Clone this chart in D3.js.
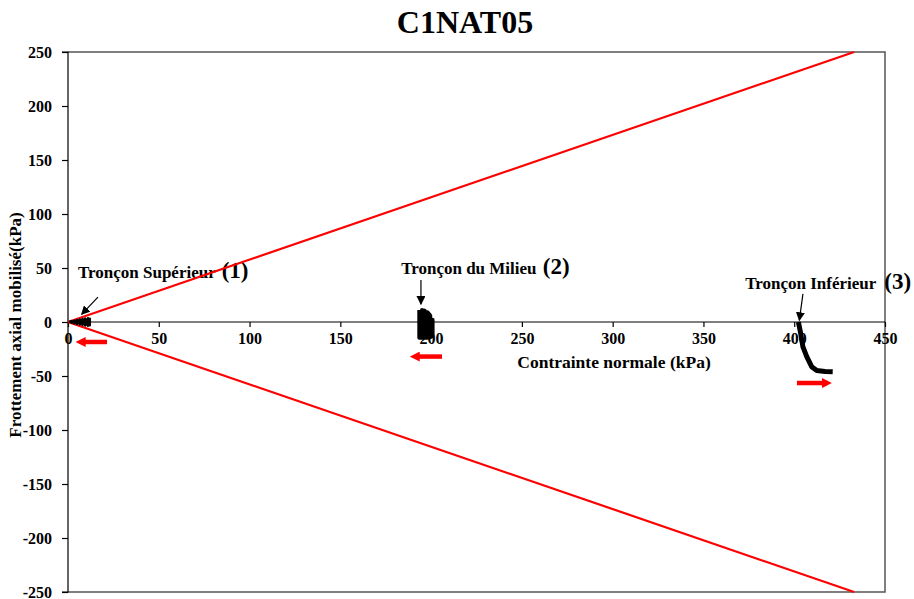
<!DOCTYPE html>
<html><head><meta charset="utf-8">
<script src="https://cdn.jsdelivr.net/npm/d3@7"></script>
<style>body{margin:0;background:#fff}svg{display:block}text{font-family:"Liberation Serif","Times New Roman",serif !important;font-weight:bold}</style>
</head><body>
<script>
const title = "C1NAT05";
const xTicks = [0,50,100,150,200,250,300,350,400,450];
const yTicks = [-250,-200,-150,-100,-50,0,50,100,150,200,250];
// Mohr-Coulomb envelope lines (tan 30°)
const envX = [0, 433];
const envUpperY = [0, 250];
const envLowerY = [0, -250];
// Tronçon Supérieur (1)
const c1x = [0.5, 2, 2, 3.5, 3.5, 5, 5, 6.5, 6.5, 8, 8, 9.5, 9.5, 11, 11, 12, 12, 11.5];
const c1y = [0, 0.8, -0.8, 1.3, -1.3, 1.8, -1.8, 2.3, -2.3, 2.8, -2.8, 3.2, -3.2, 3.5, -3.5, 3, -3, 0];
// Tronçon du Milieu (2)
const c2x = [193.5, 193.5, 195, 195, 196.5, 196.5, 198, 198, 199.5, 199.5, 200.8, 200.8, 194];
const c2y = [11, -14.5, -14.5, 11, 10.5, -14.5, -14.5, 9, 6, -14, -13, 2, -14];
// Tronçon Inférieur (3)
const c3x = [402.3, 403.5, 404.8, 406.9, 409.6, 412.4, 417, 421.2];
const c3y = [0, -10, -23, -32, -41.4, -45, -45.8, -46];
// red direction arrows [x1,y1,x2,y2]
const redArrows = [[21.5,-18.5,7,-18.5],[206,-32,191,-32],[401.5,-56.5,418,-56.5]];
// annotations
const labels = ["Tronçon Supérieur","Tronçon du Milieu","Tronçon Inférieur"];
const labelNums = ["(1)","(2)","(3)"];
const labelX = [5.5, 183.5, 373];
const labelY = [40.5, 44.5, 30.5];
const annArrows = [[16.5,23,7.5,7],[194.4,39,194.4,16.5],[404.8,26,402.8,1.5]];

const W=914,H=599;
const m={l:68,r:885,t:52,b:592};
const svg=d3.select("body").append("svg").attr("width",W).attr("height",H);
const x=d3.scaleLinear().domain([0,450]).range([m.l,m.r]);
const y=d3.scaleLinear().domain([-250,250]).range([m.b,m.t]);

const defs=svg.append("defs");
defs.append("marker").attr("id","ah").attr("viewBox","0 0 10 10").attr("refX",9).attr("refY",5)
 .attr("markerWidth",9).attr("markerHeight",9).attr("markerUnits","userSpaceOnUse").attr("orient","auto")
 .append("path").attr("d","M0,0 L10,5 L0,10 z").attr("fill","#000");
defs.append("marker").attr("id","rh").attr("viewBox","0 0 10 10").attr("refX",5).attr("refY",5)
 .attr("markerWidth",10).attr("markerHeight",10).attr("markerUnits","userSpaceOnUse").attr("orient","auto")
 .append("path").attr("d","M0,0 L10,5 L0,10 z").attr("fill","#ff0000");

svg.append("text").attr("x",465).attr("y",33).attr("text-anchor","middle").attr("font-size",32).text(title);

// frame top/right/bottom
svg.append("path").attr("d",`M${m.l},${m.t}H${m.r}V${m.b}H${m.l}`).attr("fill","none").attr("stroke","#555").attr("stroke-width",1.5);

const fmt=d=>String(d);
// y axis
const ya=svg.append("g").attr("transform",`translate(${m.l},0)`).call(d3.axisLeft(y).tickValues(yTicks).tickFormat(fmt).tickSize(6).tickPadding(10));
ya.selectAll("text").attr("font-size",16).attr("fill","#000");
ya.selectAll("line,path").attr("stroke","#000").attr("stroke-width",1.2);
ya.select(".domain").attr("d",`M-6,${m.t}H0V${m.b}H-6`);

// x axis at y=0
const xa=svg.append("g").attr("transform",`translate(0,${y(0)})`).call(d3.axisBottom(x).tickValues(xTicks).tickFormat(fmt).tickSize(5).tickPadding(6));
xa.selectAll("text").attr("font-size",16).attr("fill","#000");
xa.selectAll("line,path").attr("stroke","#000").attr("stroke-width",1.2);
xa.select(".domain").attr("d",`M${m.l},0H${m.r}`);

svg.append("text").attr("x",614).attr("y",368).attr("text-anchor","middle").attr("font-size",17.5).text("Contrainte normale (kPa)");
svg.append("text").attr("transform",`translate(21,${325}) rotate(-90)`).attr("text-anchor","middle").attr("font-size",17).text("Frottement axial mobilisé(kPa)");

// annotations text
labels.forEach((t,i)=>{
  const tx=svg.append("text").attr("x",x(labelX[i])).attr("y",y(labelY[i])).attr("font-size",17);
  tx.append("tspan").text(t+" ");
  tx.append("tspan").attr("font-size",23).attr("dx",i===2?4:2).text(labelNums[i]);
});

// envelope
const line=d3.line().x(d=>x(d[0])).y(d=>y(d[1]));
svg.append("path").attr("d",line(envX.map((v,i)=>[v,envUpperY[i]]))).attr("stroke","#ff0000").attr("stroke-width",2.2).attr("fill","none");
svg.append("path").attr("d",line(envX.map((v,i)=>[v,envLowerY[i]]))).attr("stroke","#ff0000").attr("stroke-width",2.2).attr("fill","none");

// data
[[c1x,c1y,2.5],[c2x,c2y,4],[c3x,c3y,5]].forEach(([xs,ys,w])=>{
  svg.append("path").attr("d",line(xs.map((v,i)=>[v,ys[i]]))).attr("stroke","#000").attr("stroke-width",w).attr("fill","none").attr("stroke-linejoin","round");
});

// annotation arrows
annArrows.forEach(a=>{
  svg.append("line").attr("x1",x(a[0])).attr("y1",y(a[1])).attr("x2",x(a[2])).attr("y2",y(a[3])).attr("stroke","#000").attr("stroke-width",1.2).attr("marker-end","url(#ah)");
});
// red arrows
redArrows.forEach(a=>{
  svg.append("line").attr("x1",x(a[0])).attr("y1",y(a[1])).attr("x2",x(a[2])).attr("y2",y(a[3])).attr("stroke","#ff0000").attr("stroke-width",4.5).attr("marker-end","url(#rh)");
});
</script>
</body></html>
